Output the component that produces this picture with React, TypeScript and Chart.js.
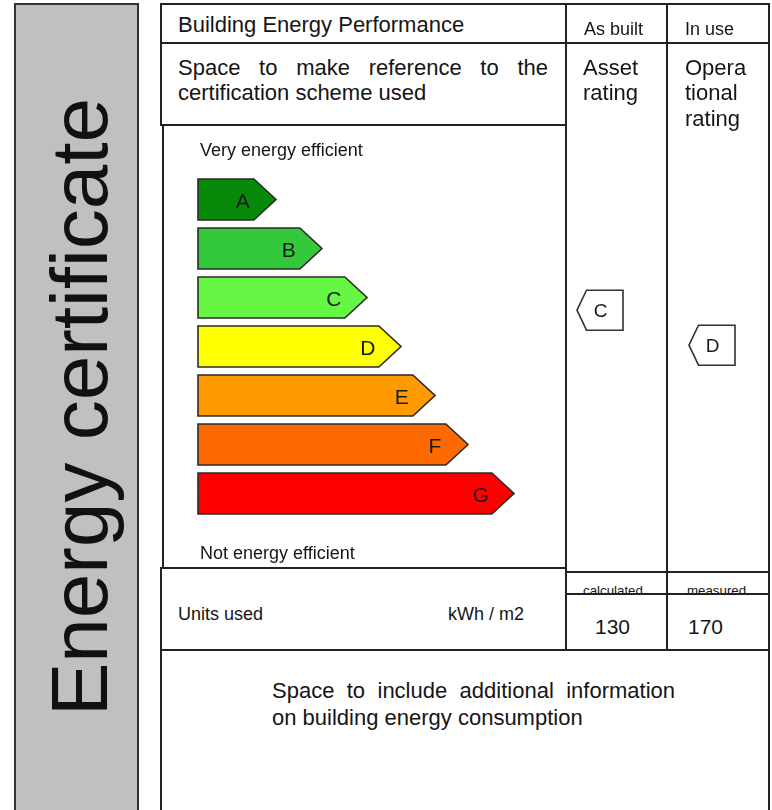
import React, { useEffect, useRef } from 'react';
import { Chart, registerables } from 'chart.js';

Chart.register(...registerables);

// ---- data ----
const ratingClasses = ['A', 'B', 'C', 'D', 'E', 'F', 'G'];
const arrowLengths = [78, 124, 169, 203, 237, 270, 316];
const bandColors = ['#078a0a', '#33c93a', '#66f744', '#ffff00', '#ff9a00', '#ff6a00', '#ff0000'];
const consumptionAxisMax = 343; // kWh/m2 span covered by the A..G bands
const assetRating = 'C';
const operationalRating = 'D';
const calculatedValue = 130;
const measuredValue = 170;

const FONT = '"Liberation Sans", Arial, Helvetica, sans-serif';
const LINE = '#222';
const INK = '#151515';

const energyPlugin = {
  id: 'energyArrows',
  beforeDatasetDraw() {
    return false;
  },
  afterDatasetsDraw(chart: any) {
    const ctx = chart.ctx;
    const meta = chart.getDatasetMeta(0);
    const ds = chart.data.datasets[0];
    meta.data.forEach((el: any, i: number) => {
      const { x, y, base, height } = el.getProps(['x', 'y', 'base', 'height'], true);
      const top = y - height / 2;
      const bottom = y + height / 2;
      const tip = height * 0.54;
      ctx.save();
      ctx.beginPath();
      ctx.moveTo(base, top);
      ctx.lineTo(x - tip, top);
      ctx.lineTo(x, y);
      ctx.lineTo(x - tip, bottom);
      ctx.lineTo(base, bottom);
      ctx.closePath();
      ctx.fillStyle = ds.backgroundColor[i];
      ctx.fill();
      ctx.lineWidth = 1.6;
      ctx.strokeStyle = '#2a2a2a';
      ctx.lineJoin = 'miter';
      ctx.stroke();
      ctx.fillStyle = '#1a1a1a';
      ctx.font = `21px ${FONT}`;
      ctx.textAlign = 'center';
      ctx.textBaseline = 'middle';
      ctx.fillText(chart.data.labels[i], x - tip - 11, y + 2.5);
      ctx.restore();
    });
  },
  afterDraw(chart: any) {
    const ctx = chart.ctx;
    const y2 = chart.scales.y2;
    const area = chart.chartArea;
    const markers = [
      { rating: assetRating, value: calculatedValue, tipX: area.right + 11 },
      { rating: operationalRating, value: measuredValue, tipX: area.right + 123 },
    ];
    markers.forEach((m) => {
      const yc = y2.getPixelForValue(m.value);
      const h = 40;
      const w = 46;
      const t = 9.5;
      ctx.save();
      ctx.beginPath();
      ctx.moveTo(m.tipX, yc);
      ctx.lineTo(m.tipX + t, yc - h / 2);
      ctx.lineTo(m.tipX + w, yc - h / 2);
      ctx.lineTo(m.tipX + w, yc + h / 2);
      ctx.lineTo(m.tipX + t, yc + h / 2);
      ctx.closePath();
      ctx.fillStyle = '#ffffff';
      ctx.fill();
      ctx.lineWidth = 1.6;
      ctx.strokeStyle = '#333';
      ctx.stroke();
      ctx.fillStyle = '#1a1a1a';
      ctx.font = `19px ${FONT}`;
      ctx.textAlign = 'center';
      ctx.textBaseline = 'middle';
      ctx.fillText(m.rating, m.tipX + 23.5, yc + 1.5);
      ctx.restore();
    });
  },
};

function HLine({ x1, x2, y }: { x1: number; x2: number; y: number }) {
  return <div style={{ position: 'absolute', left: x1, top: y, width: x2 - x1, height: 2, background: LINE }} />;
}
function VLine({ x, y1, y2 }: { x: number; y1: number; y2: number }) {
  return <div style={{ position: 'absolute', left: x, top: y1, width: 2, height: y2 - y1, background: LINE }} />;
}
function Txt({ left, baseline, size, lh, children }: { left: number; baseline: number; size: number; lh?: number; children: any }) {
  const L = lh ?? size;
  return (
    <div
      style={{
        position: 'absolute',
        left,
        top: baseline - L / 2 - 0.3465 * size,
        fontSize: size,
        lineHeight: `${L}px`,
        whiteSpace: 'nowrap',
        color: INK,
      }}
    >
      {children}
    </div>
  );
}

export default function App() {
  const canvasRef = useRef<HTMLCanvasElement | null>(null);

  useEffect(() => {
    if (!canvasRef.current) return;
    const chart = new Chart(canvasRef.current, {
      type: 'bar',
      data: {
        labels: ratingClasses,
        datasets: [
          {
            data: arrowLengths,
            backgroundColor: bandColors,
            barPercentage: 41 / 49,
            categoryPercentage: 1,
          },
        ],
      },
      options: {
        indexAxis: 'y',
        animation: false,
        responsive: false,
        layout: { padding: { left: 35, right: 202, top: 48, bottom: 48 } },
        scales: {
          x: { type: 'linear', min: 0, max: 368, display: false },
          y: { type: 'category', display: false, offset: true },
          y2: { type: 'linear', axis: 'y', min: 0, max: consumptionAxisMax, reverse: true, display: false },
        },
        plugins: { legend: { display: false }, tooltip: { enabled: false } },
      } as any,
      plugins: [energyPlugin],
    });
    return () => chart.destroy();
  }, []);

  return (
    <div
      style={{
        position: 'absolute',
        left: 0,
        top: 0,
        width: 772,
        height: 810,
        overflow: 'hidden',
        background: '#fff',
        fontFamily: FONT,
        color: INK,
      }}
    >
      {/* grey side panel */}
      <div
        style={{
          position: 'absolute',
          left: 14,
          top: 3,
          width: 121,
          height: 830,
          background: '#c0c0c0',
          border: '2px solid #333',
        }}
      />
      <div
        style={{
          position: 'absolute',
          left: 80,
          top: 407,
          transform: 'translate(-50%, -50%) rotate(-90deg)',
          fontSize: 80,
          lineHeight: '80px',
          whiteSpace: 'nowrap',
          color: '#111',
        }}
      >
        Energy certificate
      </div>

      <canvas
        ref={canvasRef}
        width={605}
        height={439}
        style={{ position: 'absolute', left: 163, top: 127, width: 605, height: 439 }}
      />

      {/* frame lines */}
      <HLine x1={160} x2={770} y={3} />
      <HLine x1={160} x2={770} y={42} />
      <HLine x1={160} x2={566} y={124} />
      <HLine x1={160} x2={566} y={567} />
      <HLine x1={566} x2={770} y={571} />
      <HLine x1={566} x2={770} y={593} />
      <HLine x1={160} x2={770} y={649} />
      <VLine x={160} y1={3} y2={126} />
      <VLine x={162} y1={124} y2={569} />
      <VLine x={160} y1={567} y2={810} />
      <VLine x={565} y1={3} y2={651} />
      <VLine x={666} y1={3} y2={651} />
      <VLine x={768} y1={3} y2={810} />

      {/* header */}
      <Txt left={178} baseline={33} size={22}>Building Energy Performance</Txt>
      <Txt left={584} baseline={35} size={18}>As built</Txt>
      <Txt left={685} baseline={35} size={18}>In use</Txt>

      {/* reference text */}
      <div style={{ position: 'absolute', left: 178, top: 75 - 12.75 - 0.3465 * 22, width: 370, fontSize: 22, lineHeight: '25.5px' }}>
        <div style={{ textAlign: 'justify', textAlignLast: 'justify' as any }}>Space to make reference to the</div>
        <div>certification scheme used</div>
      </div>
      <div style={{ position: 'absolute', left: 583, top: 75 - 12.75 - 0.3465 * 22, fontSize: 22, lineHeight: '25.5px' }}>
        Asset<br />rating
      </div>
      <div style={{ position: 'absolute', left: 685, top: 75 - 12.75 - 0.3465 * 22, fontSize: 22, lineHeight: '25.5px' }}>
        Opera<br />tional<br />rating
      </div>

      <Txt left={200} baseline={156} size={18}>Very energy efficient</Txt>
      <Txt left={200} baseline={559} size={18}>Not energy efficient</Txt>

      {/* units row */}
      <Txt left={178} baseline={620} size={18}>Units used</Txt>
      <Txt left={448} baseline={620} size={18}>kWh / m2</Txt>

      <div style={{ position: 'absolute', left: 567, top: 573, width: 99, height: 20, overflow: 'hidden' }}>
        <div style={{ position: 'absolute', left: 16, top: 22.5 - 0.8465 * 13.3, fontSize: 13.3, lineHeight: '13.3px', whiteSpace: 'nowrap' }}>
          calculated
        </div>
      </div>
      <div style={{ position: 'absolute', left: 668, top: 573, width: 100, height: 20, overflow: 'hidden' }}>
        <div style={{ position: 'absolute', left: 19, top: 22.5 - 0.8465 * 13.3, fontSize: 13.3, lineHeight: '13.3px', whiteSpace: 'nowrap' }}>
          measured
        </div>
      </div>

      <Txt left={595} baseline={634} size={21}>{String(calculatedValue)}</Txt>
      <Txt left={688} baseline={634} size={21}>{String(measuredValue)}</Txt>

      {/* bottom information */}
      <div style={{ position: 'absolute', left: 272, top: 699 - 13.25 - 0.3465 * 22, width: 403, fontSize: 22, lineHeight: '26.5px' }}>
        <div style={{ textAlign: 'justify', textAlignLast: 'justify' as any }}>Space to include additional information</div>
        <div>on building energy consumption</div>
      </div>
    </div>
  );
}
